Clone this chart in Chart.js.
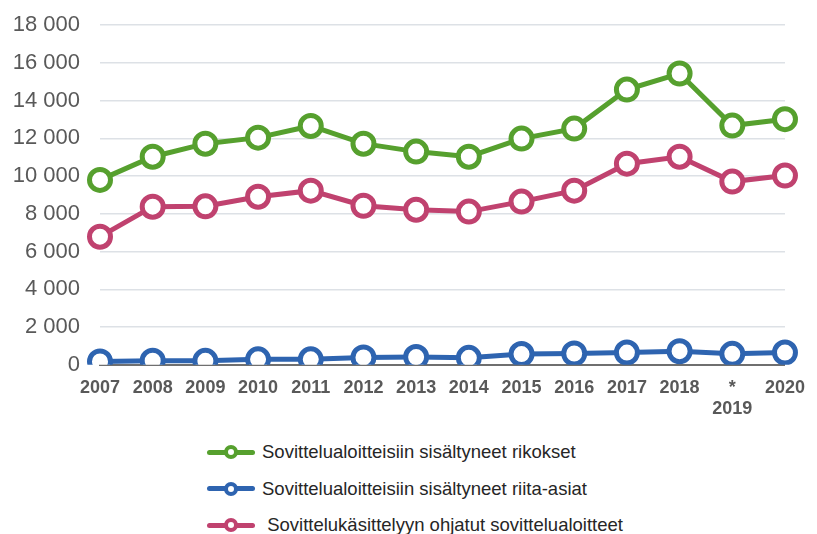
<!DOCTYPE html>
<html>
<head>
<meta charset="utf-8">
<script src="https://cdn.jsdelivr.net/npm/chart.js@4"></script>
<style>
  body { margin: 0; background: #fff; }
  #wrap { position: relative; width: 817px; height: 534px; overflow: hidden; }
  #chartBox { position: absolute; left: 0; top: -8px; width: 817px; height: 440px; }
  #legend { position: absolute; left: 207px; top: 434px; font-family: 'Liberation Sans', Arial, sans-serif; font-size: 18.5px; color: #262626; }
  .item { display: flex; align-items: center; height: 36.5px; }
  .icon { position: relative; width: 48px; height: 16px; margin-right: 7px; }
  .icon .bar { position: absolute; left: 0; right: 0; top: 5.5px; height: 5px; border-radius: 3px; }
  .icon .dot { position: absolute; left: 17px; top: 1px; width: 6px; height: 6px; border-radius: 50%; background: #fff; border: 4px solid; }
</style>
</head>
<body>
<div id="wrap">
  <div id="chartBox"><canvas id="grafico"></canvas></div>
  <div id="legend"></div>
</div>
<script>
// Vuodet (2019 merkitty tähdellä)
const vuodet = ['2007', '2008', '2009', '2010', '2011', '2012', '2013', '2014', '2015', '2016', '2017', '2018', ['*', '2019'], '2020'];

// Sarjat
const rikokset = [9800, 11030, 11720, 12040, 12660, 11720, 11300, 11030, 11990, 12520, 14590, 15440, 12680, 13020];
const riitaAsiat = [180, 220, 210, 290, 290, 390, 410, 370, 570, 600, 650, 720, 580, 650];
const ohjatut = [6790, 8380, 8400, 8910, 9230, 8430, 8220, 8120, 8650, 9230, 10660, 11030, 9710, 10030];

const nimet = [
  'Sovittelualoitteisiin sisältyneet rikokset',
  'Sovittelualoitteisiin sisältyneet riita-asiat',
  ' Sovittelukäsittelyyn ohjatut sovittelualoitteet'
];
const varit = ['#56a02e', '#2e64b0', '#c0426f'];

function sarja(i, data, order) {
  return {
    label: nimet[i],
    data: data,
    borderColor: varit[i],
    backgroundColor: '#ffffff',
    pointBackgroundColor: '#ffffff',
    pointBorderColor: varit[i],
    borderWidth: 5,
    pointRadius: 10.5,
    pointBorderWidth: 5,
    pointHoverRadius: 10.5,
    tension: 0,
    order: order
  };
}

const fmt = v => String(v).replace(/\B(?=(\d{3})+(?!\d))/g, ' ');

new Chart(document.getElementById('grafico'), {
  type: 'line',
  data: {
    labels: vuodet,
    datasets: [sarja(0, rikokset, 2), sarja(1, riitaAsiat, 1), sarja(2, ohjatut, 3)]
  },
  options: {
    responsive: true,
    maintainAspectRatio: false,
    animation: false,
    layout: { padding: { left: 0, right: 21, top: 0, bottom: 0 } },
    plugins: {
      legend: { display: false },
      tooltip: { enabled: false }
    },
    scales: {
      x: {
        offset: false,
        grid: { display: false, drawTicks: false },
        border: { display: true, color: '#6f6f6f', width: 2 },
        ticks: {
          color: '#595959',
          font: { family: 'Liberation Sans', size: 18, weight: 'bold' },
          padding: 12,
          maxRotation: 0,
          autoSkip: false
        }
      },
      y: {
        min: 0,
        max: 18000,
        afterFit: s => { s.width = 100; },
        grid: { color: '#dde1e6', lineWidth: 1.5, drawTicks: false },
        border: { display: false },
        ticks: {
          stepSize: 2000,
          color: '#595959',
          font: { family: 'Liberation Sans', size: 22 },
          padding: 20,
          callback: v => fmt(v)
        }
      }
    }
  }
});

// Selite
const legend = document.getElementById('legend');
nimet.forEach((n, i) => {
  const el = document.createElement('div');
  el.className = 'item';
  el.innerHTML = '<div class="icon"><div class="bar" style="background:' + varit[i] + '"></div>' +
    '<div class="dot" style="border-color:' + varit[i] + '"></div></div><span style="white-space:pre">' + n + '</span>';
  legend.appendChild(el);
});
</script>
</body>
</html>
